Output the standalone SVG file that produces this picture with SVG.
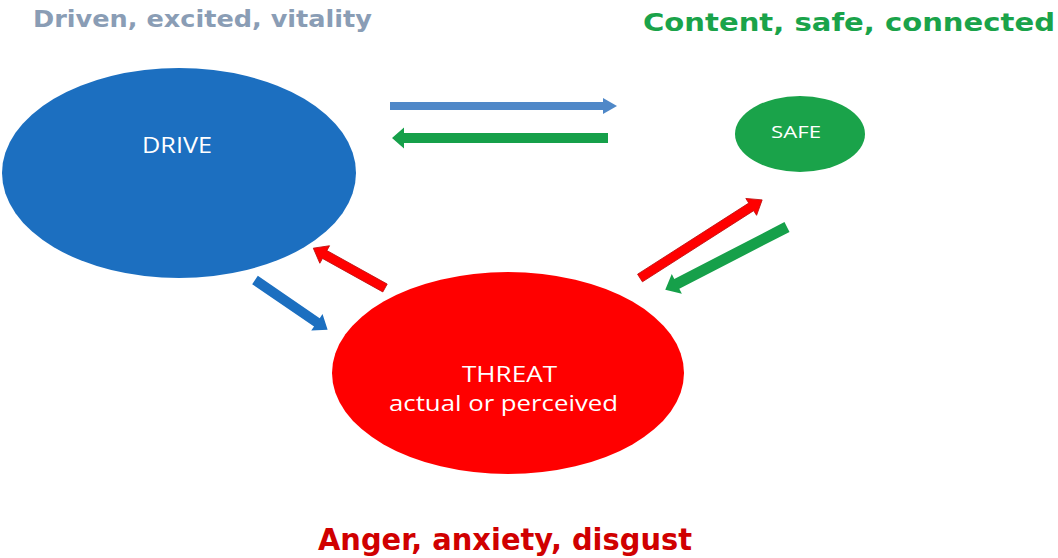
<svg xmlns="http://www.w3.org/2000/svg" width="1058" height="558" viewBox="0 0 1058 558">
<style>
.title{font-family:"DejaVu Sans","Open Sans",sans-serif;font-weight:bold}
.lbl{font-family:"Open Sans","Liberation Sans",sans-serif;fill:#ffffff}
</style>
<rect width="1058" height="558" fill="#ffffff"/>
<text class="title" x="33" y="27" font-size="23" fill="#8a9db5" textLength="339" lengthAdjust="spacingAndGlyphs">Driven, excited, vitality</text>
<text class="title" x="643" y="31" font-size="25" fill="#1aa34a" textLength="412" lengthAdjust="spacingAndGlyphs">Content, safe, connected</text>
<text class="title" x="318" y="550" font-size="30" fill="#d00000" textLength="374" lengthAdjust="spacingAndGlyphs">Anger, anxiety, disgust</text>
<g id="drive">
<ellipse cx="179" cy="173" rx="177" ry="105" fill="#1c6fc0"/>
<text class="lbl" x="142" y="153" font-size="21" textLength="70" lengthAdjust="spacingAndGlyphs">DRIVE</text>
</g>
<g id="safe">
<ellipse cx="800" cy="134" rx="65" ry="38" fill="#1aa34a"/>
<text class="lbl" x="771" y="138" font-size="17" textLength="50" lengthAdjust="spacingAndGlyphs">SAFE</text>
</g>
<g id="threat">
<ellipse cx="508" cy="373" rx="176" ry="101" fill="#ff0000"/>
<text class="lbl" x="462" y="382" font-size="22" textLength="95" lengthAdjust="spacingAndGlyphs">THREAT</text>
<text class="lbl" x="389" y="411" font-size="22" textLength="229" lengthAdjust="spacingAndGlyphs">actual or perceived</text>
</g>
<g id="connectors">
<polygon transform="translate(390,106)" points="0,-4 213,-4 213,-8 227,0 213,8 213,4 0,4" fill="#4f88c8"/>
<polygon transform="translate(608,138) rotate(180)" points="0,-5 204,-5 204,-10.5 216,0 204,10.5 204,5 0,5" fill="#16a04a"/>
<polygon transform="translate(385,288) rotate(-150.95)" points="0,-4.5 69,-4.5 69,-10 82,0 69,10 69,4.5 0,4.5" fill="#ff0000" stroke="#c01010" stroke-width="0.8"/>
<polygon transform="translate(255,280) rotate(34.4)" points="0,-5 75,-5 75,-10 88,0 75,10 75,5 0,5" fill="#1c6fc0"/>
<polygon transform="translate(640,278) rotate(-32.6)" points="0,-4.5 132,-4.5 132,-10 145,0 132,10 132,4.5 0,4.5" fill="#ff0000" stroke="#c01010" stroke-width="0.8"/>
<polygon transform="translate(787,227) rotate(152.7)" points="0,-5.5 124,-5.5 124,-11 137,0 124,11 124,5.5 0,5.5" fill="#16a04a"/>
</g>
</svg>
